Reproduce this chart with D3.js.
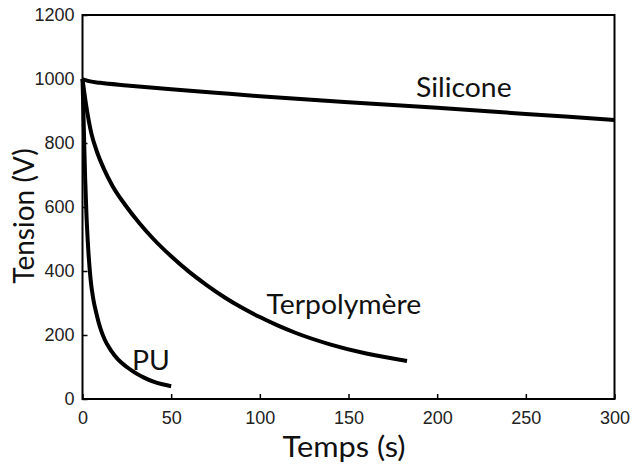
<!DOCTYPE html>
<html>
<head>
<meta charset="utf-8">
<script src="https://cdn.jsdelivr.net/npm/d3@7"></script>
<style>
  body { margin: 0; background: #fff; }
  svg { display: block; }
</style>
</head>
<body>
<div id="chart"></div>
<script>
// ---- data ----
const xTicks = [0, 50, 100, 150, 200, 250, 300];
const yTicks = [0, 200, 400, 600, 800, 1000, 1200];

const siliconeT = [0, 3, 10, 25, 50, 75, 100, 150, 200, 250, 300];
const siliconeV = [1000, 994, 988, 980, 968, 957, 946, 927, 910, 891, 872];

const terpT = [0, 2, 5, 8, 12, 17, 24, 32, 40, 50, 60, 70, 80, 90, 100, 110, 120, 140, 160, 183];
const terpV = [1000, 920, 830, 775, 720, 665, 607, 550, 500, 446, 398, 356, 318, 285, 256, 230, 207, 170, 142, 119];

const puT = [0, 0.5, 1, 1.5, 2.2, 3, 4.6, 6, 7.8, 10, 12.5, 16, 20, 25, 30, 35, 40, 45, 50];
const puV = [1000, 900, 790, 690, 580, 490, 372, 315, 268, 222, 186, 152, 124, 100, 81, 66, 54, 46, 40];

const seriesNames = ["Silicone", "Terpolymère", "PU"];
const labelAt = [[215, 944], [147.4, 265.6], [38.6, 90.6]];

const xLabel = "Temps (s)";
const yLabel = "Tension (V)";

// ---- layout ----
const W = 639, H = 465;
const mLeft = 82.5, mRight = 614.5, mTop = 15, mBottom = 399;

const svg = d3.select("#chart").append("svg").attr("width", W).attr("height", H);

const x = d3.scaleLinear().domain([0, 300]).range([mLeft, mRight]);
const y = d3.scaleLinear().domain([0, 1200]).range([mBottom, mTop]);

const tickFont = "'Liberation Sans', Arial, sans-serif";
const labFont = "Lato, 'Open Sans', sans-serif";

svg.append("rect")
  .attr("x", mLeft).attr("y", mTop)
  .attr("width", mRight - mLeft).attr("height", mBottom - mTop)
  .attr("fill", "none").attr("stroke", "#000").attr("stroke-width", 2);

const gx = svg.append("g").attr("transform", `translate(0,${mBottom})`)
  .call(d3.axisBottom(x).tickValues(xTicks).tickFormat(d3.format("d")).tickSizeInner(-5).tickSizeOuter(0).tickPadding(12));
gx.select(".domain").remove();
gx.selectAll("line").attr("stroke", "#000").attr("stroke-width", 1.5);
gx.selectAll("text").attr("font-family", tickFont).attr("font-size", 18).attr("fill", "#222");

const gy = svg.append("g").attr("transform", `translate(${mLeft},0)`)
  .call(d3.axisLeft(y).tickValues(yTicks).tickFormat(d3.format("d")).tickSizeInner(-5).tickSizeOuter(0).tickPadding(8));
gy.select(".domain").remove();
gy.selectAll("line").attr("stroke", "#000").attr("stroke-width", 1.5);
gy.selectAll("text").attr("font-family", tickFont).attr("font-size", 18).attr("fill", "#222");

const line = d3.line().x(d => x(d[0])).y(d => y(d[1])).curve(d3.curveMonotoneX);
const allSeries = [
  d3.zip(siliconeT, siliconeV),
  d3.zip(terpT, terpV),
  d3.zip(puT, puV)
];
svg.append("g").selectAll("path").data(allSeries).join("path")
  .attr("d", line)
  .attr("fill", "none").attr("stroke", "#000").attr("stroke-width", 4)
  .attr("stroke-linecap", "butt").attr("stroke-linejoin", "round");

svg.append("g").selectAll("text").data(seriesNames).join("text")
  .attr("transform", (d, i) => `translate(${x(labelAt[i][0])},${y(labelAt[i][1])}) scale(1.05,1)`)
  .attr("text-anchor", "middle")
  .attr("font-family", labFont).attr("font-size", 27).attr("fill", "#111")
  .text(d => d);

svg.append("text").attr("transform", "translate(344,457) scale(1.1,1)")
  .attr("text-anchor", "middle").attr("font-family", labFont).attr("font-size", 28).attr("fill", "#111")
  .text(xLabel);
svg.append("text").attr("transform", "translate(34,216) rotate(-90)")
  .attr("text-anchor", "middle").attr("font-family", labFont).attr("font-size", 28).attr("fill", "#111")
  .text(yLabel);
</script>
</body>
</html>
